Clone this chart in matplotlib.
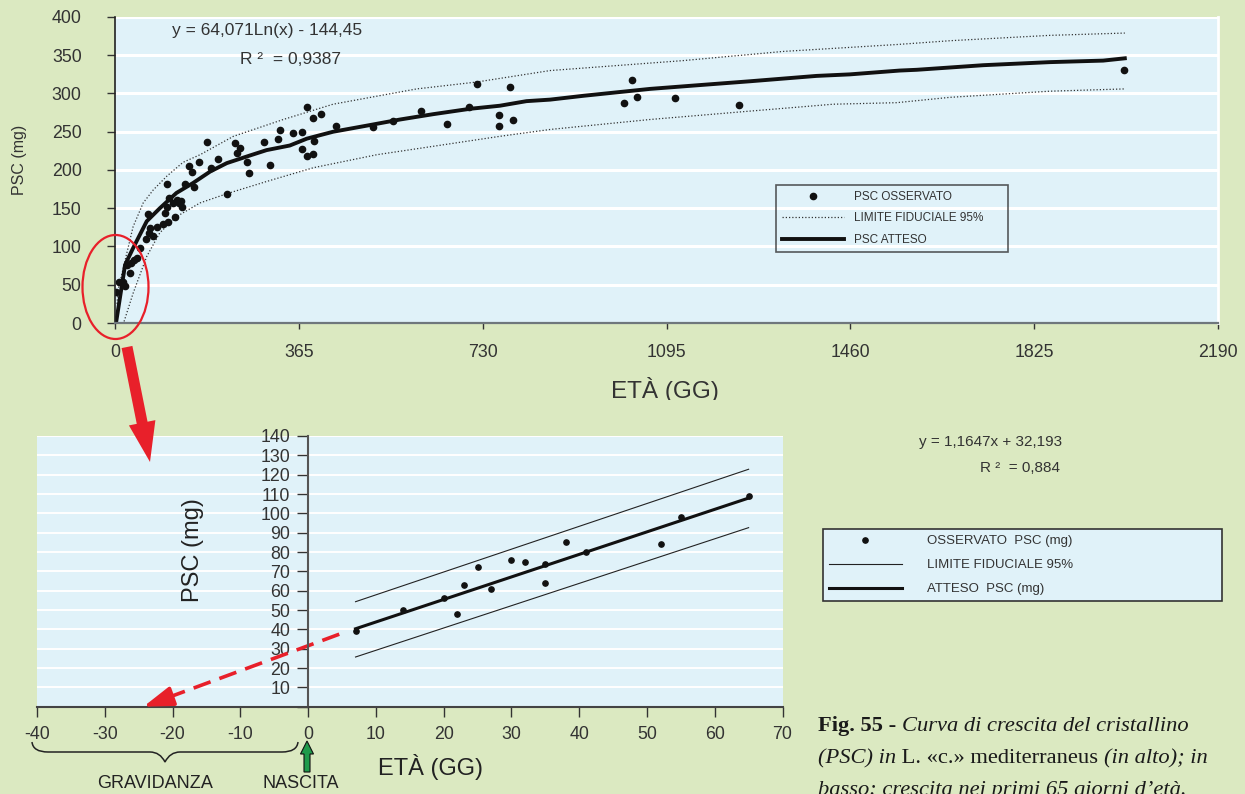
import matplotlib
matplotlib.use("Agg")
import matplotlib.pyplot as plt
from matplotlib.patches import Ellipse, FancyArrow, PathPatch
from matplotlib.path import Path
from matplotlib.transforms import Bbox

plt.rcParams['font.family'] = ['Liberation Sans', 'DejaVu Sans']
plt.rcParams['axes.unicode_minus'] = False

GREEN_BG = '#dbe9c1'
BLUE_BG = '#e0f2f9'
TXT = '#333333'
RED = '#e8202a'

# --- top chart: whole life (days, mg) ---
obs_days = [2, 8, 16, 20, 23, 30, 31, 38, 43, 50, 61, 65, 68, 69, 76, 84, 96, 99,
            103, 103, 105, 107, 115, 119, 123, 128, 132, 134, 138, 146, 152, 157,
            167, 182, 190, 205, 222, 238, 242, 248, 263, 267, 296, 308, 323, 328,
            353, 371, 372, 381, 381, 394, 394, 396, 410, 438, 513, 551, 608, 659,
            703, 718, 763, 763, 784, 790, 1010, 1026, 1036, 1112, 1238, 2003]
obs_psc = [40, 53, 54, 49, 76, 65, 78, 83, 85, 98, 110, 143, 118, 124, 114, 126, 129, 144,
           152, 182, 132, 164, 157, 139, 161, 157, 159, 151, 182, 205, 198, 178,
           210, 237, 202, 215, 169, 235, 222, 229, 210, 196, 237, 206, 241, 252,
           248, 250, 227, 282, 218, 268, 221, 238, 273, 258, 256, 264, 277, 260,
           283, 313, 272, 258, 309, 265, 288, 318, 296, 294, 285, 331]

fit_days = [2, 20, 36, 63, 89, 122, 155, 189, 222, 268, 301, 347, 381, 433, 500, 566,
            632, 705, 764, 817, 864, 930, 1062, 1161, 1261, 1393, 1459, 1558, 1592,
            1724, 1856, 1962, 2005]
fit_psc = [0, 76, 98, 133, 150, 170, 183, 198, 209, 219, 226, 232, 241, 250, 258, 266,
           273, 280, 284, 290, 292, 297, 306, 311, 316, 323, 325, 330, 331,
           337, 341, 343, 346]

upper_days = [4, 6, 36, 56, 76, 103, 135, 169, 235, 334, 433, 599, 718, 864, 1128,
              1327, 1552, 1658, 1856, 2005]
upper_psc = [25, 43, 126, 157, 174, 192, 210, 220, 244, 266, 286, 306, 315, 330, 343,
             355, 364, 369, 376, 379]

lower_days = [18, 36, 63, 89, 122, 169, 222, 301, 394, 520, 632, 764, 864, 1062, 1261,
              1426, 1552, 1658, 1856, 2005]
lower_psc = [2, 39, 87, 118, 139, 157, 169, 185, 203, 220, 231, 244, 253, 266, 277,
             286, 288, 295, 303, 306]

year_ticks = [0, 365, 730, 1095, 1460, 1825, 2190]

# --- bottom chart: first 65 days ---
young_days = [7, 14, 20, 22, 23, 25, 27, 30, 32, 35, 35, 38, 41, 52, 55, 65]
young_psc = [39, 50, 56, 48, 63, 72, 61, 76, 75, 74, 64, 85, 80, 84, 98, 109]
lin_days = [7, 65]
lin_psc = [40.3, 107.9]
lin_upper = [54.3, 122.8]
lin_lower = [25.7, 92.6]
extrap_days = [4.6, -21.0]
extrap_psc = [37.5, 4.3]
arrow_tip = (-24.3, 0)

W, H = 1245, 794
fig = plt.figure(figsize=(W / 100, H / 100), dpi=100, facecolor=GREEN_BG)


def rect(x0, y0, x1, y1):
    return [x0 / W, 1 - y1 / H, (x1 - x0) / W, (y1 - y0) / H]


# top axes
ax1 = fig.add_axes(rect(115, 17, 1218, 323))
ax1.set_facecolor(BLUE_BG)
ax1.set_xlim(0, 2190)
ax1.set_ylim(0, 400)
ax1.set_yticks(range(0, 401, 50))
ax1.set_xticks(year_ticks)
ax1.grid(axis='y', color='white', lw=2.2)
ax1.set_axisbelow(True)
ax1.spines['top'].set_visible(False)
ax1.spines['right'].set_color('white')
ax1.spines['right'].set_linewidth(2)
ax1.spines['left'].set_color('#222222')
ax1.spines['left'].set_linewidth(1.2)
ax1.spines['bottom'].set_color('#6f777c')
ax1.spines['bottom'].set_linewidth(1.6)
ax1.tick_params(axis='y', length=6, width=1, color='#333333', pad=18,
                labelsize=12.8, labelcolor=TXT)
ax1.tick_params(axis='x', length=4, width=1, color='#333333', pad=11,
                labelsize=12.8, labelcolor=TXT)

l_up, = ax1.plot(upper_days, upper_psc, ls=(0, (1, 1.6)), color='#333333', lw=0.9)
ax1.plot(lower_days, lower_psc, ls=(0, (1, 1.6)), color='#333333', lw=0.9)
l_fit, = ax1.plot(fit_days, fit_psc, color='#111111', lw=2.8)
l_obs, = ax1.plot(obs_days, obs_psc, 'o', color='#111111', ms=4.5, ls='none')

leg1 = ax1.legend([l_obs, l_up, l_fit], ['PSC OSSERVATO', 'LIMITE FIDUCIALE 95%', 'PSC ATTESO'],
                  loc='upper left', bbox_to_anchor=(776 / W, 1 - 261 / H, 232 / W, 76 / H),
                  bbox_transform=fig.transFigure, mode='expand', fancybox=False,
                  edgecolor='#333333', facecolor='none', fontsize=8.5, handlelength=5.3,
                  handletextpad=0.8, labelspacing=0.8, numpoints=1, borderaxespad=0,
                  borderpad=0.5)
leg1.get_frame().set_linewidth(1.2)
for t in leg1.get_texts():
    t.set_color(TXT)

fig.text(172 / W, 1 - 31 / H, 'y = 64,071Ln(x) - 144,45', fontsize=12.5, color=TXT,
         va='center')
fig.text(240 / W, 1 - 60 / H, 'R ²  = 0,9387', fontsize=12.5, color=TXT, va='center')
fig.text(20 / W, 1 - 160 / H, 'PSC (mg)', fontsize=11.5, color=TXT, rotation=90,
         ha='center', va='center')
xl = fig.text(665 / W, 1 - 390 / H, 'ETÀ (GG)', fontsize=17.5, color=TXT,
              ha='center', va='center')
xl.set_clip_box(Bbox([[0, H - 400], [W, H]]))
xl.set_clip_on(True)

# bottom axes
ax2 = fig.add_axes(rect(37, 436, 782.5, 706.7))
ax2.set_facecolor(BLUE_BG)
ax2.set_xlim(-40, 70)
ax2.set_ylim(0, 140)
ax2.set_xticks(range(-40, 71, 10))
ax2.set_yticks(range(0, 141, 10))
ax2.set_yticklabels([''] + [str(v) for v in range(10, 141, 10)])
ax2.grid(axis='y', color='white', lw=1.4)
ax2.set_axisbelow(True)
ax2.spines['top'].set_visible(False)
ax2.spines['right'].set_visible(False)
ax2.spines['left'].set_position(('data', 0))
ax2.spines['left'].set_color('#555555')
ax2.spines['left'].set_linewidth(1.5)
ax2.spines['bottom'].set_color('#444444')
ax2.spines['bottom'].set_linewidth(1.5)
ax2.tick_params(axis='y', length=8, width=1, color='#333333', pad=5,
                labelsize=12.8, labelcolor=TXT)
ax2.tick_params(axis='x', length=7, width=1, color='#333333', pad=7,
                labelsize=12.8, labelcolor=TXT)

b_lim, = ax2.plot(lin_days, lin_upper, color='#222222', lw=0.8)
ax2.plot(lin_days, lin_lower, color='#222222', lw=0.8)
b_fit, = ax2.plot(lin_days, lin_psc, color='#111111', lw=2.2)
b_obs, = ax2.plot(young_days, young_psc, 'o', color='#111111', ms=3.8, ls='none')

ax2.plot(extrap_days, extrap_psc, color=RED, lw=2.6, dashes=(5, 2.6), clip_on=False)
ax2.annotate('', xy=arrow_tip, xytext=(extrap_days[1] + 0.2, extrap_psc[1] + 0.1),
             arrowprops=dict(arrowstyle='-|>,head_length=1.8,head_width=0.6', color=RED,
                             lw=2.6, shrinkA=0, shrinkB=0),
             annotation_clip=False)

leg2 = ax2.legend([b_obs, b_lim, b_fit],
                  ['OSSERVATO  PSC (mg)', 'LIMITE FIDUCIALE 95%', 'ATTESO  PSC (mg)'],
                  loc='upper left', bbox_to_anchor=(823 / W, 1 - 610 / H, 399 / W, 81 / H),
                  bbox_transform=fig.transFigure, mode='expand', fancybox=False,
                  edgecolor='#333333', facecolor=BLUE_BG, framealpha=1, fontsize=9.5,
                  handlelength=5.5, handletextpad=1.9, labelspacing=0.9, numpoints=1,
                  borderaxespad=0, borderpad=0.45)
leg2.get_frame().set_linewidth(1.2)
for t in leg2.get_texts():
    t.set_color(TXT)

fig.text(919 / W, 1 - 442 / H, 'y = 1,1647x + 32,193', fontsize=11, color=TXT, va='center')
fig.text(980 / W, 1 - 468 / H, 'R ²  = 0,884', fontsize=11, color=TXT, va='center')
fig.text(193 / W, 1 - 550 / H, 'PSC (mg)', fontsize=17, color='#222222', rotation=90,
         ha='center', va='center')
fig.text(430 / W, 1 - 767 / H, 'ETÀ (GG)', fontsize=17, color='#222222',
         ha='center', va='center')
fig.text(155 / W, 1 - 784 / H, 'GRAVIDANZA', fontsize=13, color='#222222',
         ha='center', va='center')
fig.text(301 / W, 1 - 784 / H, 'NASCITA', fontsize=13, color='#222222',
         ha='center', va='center')

# overlay in pixel units for the drawn annotations
axo = fig.add_axes([0, 0, 1, 1], zorder=10)
axo.set_xlim(0, W)
axo.set_ylim(H, 0)
axo.axis('off')

axo.add_patch(Ellipse((115.5, 287), 66, 104, fill=False, ec=RED, lw=1.6))
axo.add_patch(FancyArrow(127, 347, 23, 115, width=11, head_width=27, head_length=40,
                         length_includes_head=True, color=RED, lw=0))
axo.add_patch(FancyArrow(307, 772, 0, -31, width=6, head_width=13, head_length=13,
                         length_includes_head=True, fc='#1f9a4b', ec='#111111', lw=0.8))

brace = Path([(32, 742), (33, 752), (48, 752), (150, 752), (160, 752), (165, 762),
              (170, 752), (180, 752), (282, 752), (297, 752), (298, 742)],
             [Path.MOVETO, Path.CURVE3, Path.CURVE3, Path.LINETO, Path.CURVE3, Path.CURVE3,
              Path.CURVE3, Path.CURVE3, Path.LINETO, Path.CURVE3, Path.CURVE3])
axo.add_patch(PathPatch(brace, fill=False, ec='#222222', lw=1.1))

# caption with mixed styles (runs off the right and bottom edges as in the page scan)
SERIF = ['Liberation Serif', 'DejaVu Serif']
cap_lines = [
    (731, [('Fig. 55', 'normal', 'bold'), (' - ', 'normal', 'normal'),
           ('Curva di crescita del cristallino', 'italic', 'normal')]),
    (763, [('(PSC) in', 'italic', 'normal'), (' L. «c.» mediterraneus ', 'normal', 'normal'),
           ('(in alto); in', 'italic', 'normal')]),
    (795, [('basso: crescita nei primi 65 giorni d’età.', 'italic', 'normal')]),
]
for base_y, parts in cap_lines:
    s, st, wt = parts[0]
    t = axo.text(818, base_y, s, fontsize=16.2, family=SERIF, style=st, weight=wt,
                 color='#1a1a1a', va='baseline', ha='left')
    for s, st, wt in parts[1:]:
        t = axo.annotate(s, xy=(1, 0), xycoords=t, fontsize=16.2, family=SERIF, style=st,
                         weight=wt, color='#1a1a1a', va='bottom', ha='left')

fig.savefig('out.png', dpi=100, facecolor=GREEN_BG)
